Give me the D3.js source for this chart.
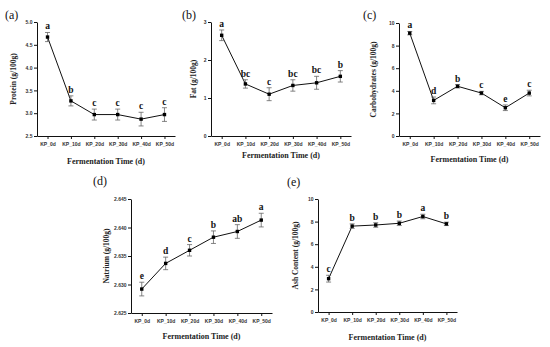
<!DOCTYPE html>
<html>
<head>
<meta charset="utf-8">
<script src="https://cdn.jsdelivr.net/npm/d3@7"></script>
<style>
  body { margin: 0; background: #fff; }
  svg { display: block; }
</style>
</head>
<body>
<div id="chart"></div>
<script>
const categories = ["KP_0d", "KP_10d", "KP_20d", "KP_30d", "KP_40d", "KP_50d"];

const proteinMean = [4.67, 3.27, 2.97, 2.97, 2.87, 2.97];
const proteinErr = [0.10, 0.11, 0.12, 0.12, 0.15, 0.15];
const proteinLetters = ["a", "b", "c", "c", "c", "c"];

const fatMean = [2.65, 1.37, 1.10, 1.33, 1.40, 1.57];
const fatErr = [0.14, 0.11, 0.17, 0.15, 0.17, 0.15];
const fatLetters = ["a", "bc", "c", "bc", "bc", "b"];

const carbMean = [9.10, 3.15, 4.40, 3.80, 2.50, 3.80];
const carbErr = [0.15, 0.30, 0.15, 0.15, 0.25, 0.25];
const carbLetters = ["a", "d", "b", "c", "e", "c"];

const natriumMean = [2.6292, 2.6337, 2.6360, 2.6383, 2.6393, 2.6413];
const natriumErr = [0.0012, 0.0011, 0.0010, 0.0011, 0.0012, 0.0012];
const natriumLetters = ["e", "d", "c", "b", "ab", "a"];

const ashMean = [2.95, 7.60, 7.70, 7.85, 8.45, 7.80];
const ashErr = [0.30, 0.20, 0.20, 0.20, 0.20, 0.15];
const ashLetters = ["c", "b", "b", "b", "a", "b"];

const panels = [
  { tag: "(a)", label: "Protein (g/100g)", mean: proteinMean, err: proteinErr, letters: proteinLetters,
    domain: [2.5, 5.0], ticks: [2.5, 3.0, 3.5, 4.0, 4.5, 5.0], fmt: ".1f",
    left: 37, right: 175, top: 22, bottom: 136, tagX: 5, tagY: 19, ylabX: 16, xlabY: 164 },
  { tag: "(b)", label: "Fat (g/100g)", mean: fatMean, err: fatErr, letters: fatLetters,
    domain: [0, 3], ticks: [0, 1, 2, 3], fmt: "d",
    left: 211, right: 351, top: 22, bottom: 136, tagX: 182, tagY: 19, ylabX: 196, xlabY: 158 },
  { tag: "(c)", label: "Carbohydrates (g/100g)", mean: carbMean, err: carbErr, letters: carbLetters,
    domain: [0, 10], ticks: [0, 2, 4, 6, 8, 10], fmt: "d",
    left: 399, right: 540, top: 23, bottom: 136, tagX: 363, tagY: 19, ylabX: 376, xlabY: 162 },
  { tag: "(d)", label: "Natrium (g/100g)", mean: natriumMean, err: natriumErr, letters: natriumLetters,
    domain: [2.625, 2.645], ticks: [2.625, 2.630, 2.635, 2.640, 2.645], fmt: ".3f",
    left: 131, right: 272, top: 199, bottom: 313, tagX: 93, tagY: 185, ylabX: 109, xlabY: 339 },
  { tag: "(e)", label: "Ash Content (g/100g)", mean: ashMean, err: ashErr, letters: ashLetters,
    domain: [0, 10], ticks: [0, 2, 4, 6, 8, 10], fmt: "d",
    left: 318, right: 457, top: 199, bottom: 312, tagX: 287, tagY: 186, ylabX: 298, xlabY: 340 }
];

const svg = d3.select("#chart")
  .append("svg")
    .attr("width", 550)
    .attr("height", 347);

const serif = "'Liberation Serif', 'DejaVu Serif', serif";
const sans = "'Liberation Sans', Arial, sans-serif";

panels.forEach(p => {
  const g = svg.append("g");

  const x = d3.scalePoint()
    .domain(categories)
    .range([p.left, p.right])
    .padding(0.45);

  const y = d3.scaleLinear()
    .domain(p.domain)
    .range([p.bottom, p.top]);

  const xAxis = g.append("g")
    .attr("transform", `translate(0, ${p.bottom})`)
    .call(d3.axisBottom(x).tickSize(3).tickSizeOuter(0).tickPadding(3));

  const yAxis = g.append("g")
    .attr("transform", `translate(${p.left}, 0)`)
    .call(d3.axisLeft(y).tickValues(p.ticks).tickFormat(d3.format(p.fmt)).tickSize(3).tickSizeOuter(0).tickPadding(1.5));

  [xAxis, yAxis].forEach(a => {
    a.selectAll("path, line").attr("stroke", "#111").attr("stroke-width", 1);
    a.selectAll("text")
      .style("font-family", sans)
      .style("font-size", "5px")
      .style("font-weight", "bold")
      .attr("fill", "#333");
  });

  const rows = categories.map((c, i) => ({ c, m: p.mean[i], e: p.err[i], l: p.letters[i] }));

  g.append("path")
    .datum(rows)
    .attr("fill", "none")
    .attr("stroke", "#111")
    .attr("stroke-width", 1)
    .attr("d", d3.line().x(d => x(d.c)).y(d => y(d.m)));

  const bars = g.selectAll(".err")
    .data(rows)
    .enter()
    .append("g")
      .attr("stroke", "#666")
      .attr("stroke-width", 0.8);

  bars.append("line")
    .attr("x1", d => x(d.c)).attr("x2", d => x(d.c))
    .attr("y1", d => y(d.m - d.e)).attr("y2", d => y(d.m + d.e));
  bars.append("line")
    .attr("x1", d => x(d.c) - 2.5).attr("x2", d => x(d.c) + 2.5)
    .attr("y1", d => y(d.m + d.e)).attr("y2", d => y(d.m + d.e));
  bars.append("line")
    .attr("x1", d => x(d.c) - 2.5).attr("x2", d => x(d.c) + 2.5)
    .attr("y1", d => y(d.m - d.e)).attr("y2", d => y(d.m - d.e));

  g.selectAll(".pt")
    .data(rows)
    .enter()
    .append("rect")
      .attr("x", d => x(d.c) - 1.7)
      .attr("y", d => y(d.m) - 1.7)
      .attr("width", 3.4)
      .attr("height", 3.4)
      .attr("fill", "#000");

  g.selectAll(".sig")
    .data(rows)
    .enter()
    .append("text")
      .attr("x", d => x(d.c))
      .attr("y", d => y(d.m + d.e) - 3)
      .attr("text-anchor", "middle")
      .style("font-family", serif)
      .style("font-size", "9.5px")
      .style("font-weight", "bold")
      .attr("fill", "#111")
      .text(d => d.l);

  g.append("text")
    .attr("x", (p.left + p.right) / 2)
    .attr("y", p.xlabY)
    .attr("text-anchor", "middle")
    .style("font-family", serif)
    .style("font-size", "8px")
    .style("font-weight", "bold")
    .attr("fill", "#222")
    .text("Fermentation Time (d)");

  g.append("text")
    .attr("transform", `translate(${p.ylabX}, ${(p.top + p.bottom) / 2}) rotate(-90)`)
    .attr("text-anchor", "middle")
    .style("font-family", serif)
    .style("font-size", "7.5px")
    .style("font-weight", "bold")
    .attr("fill", "#222")
    .text(p.label);

  g.append("text")
    .attr("x", p.tagX)
    .attr("y", p.tagY)
    .style("font-family", serif)
    .style("font-size", "12px")
    .attr("fill", "#111")
    .text(p.tag);
});
</script>
</body>
</html>
